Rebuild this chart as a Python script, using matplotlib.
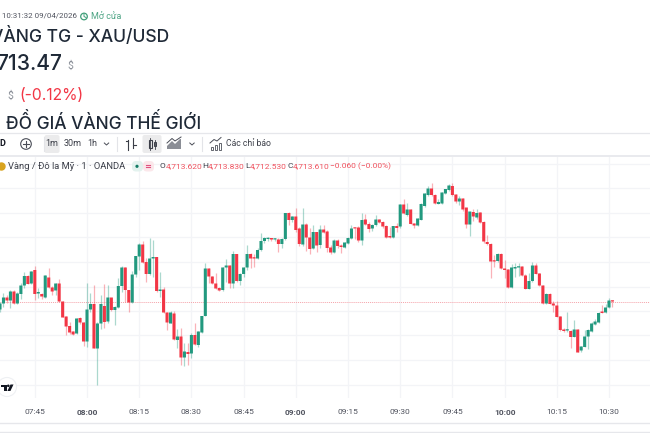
import numpy as np
import matplotlib
matplotlib.use("Agg")
import matplotlib.pyplot as plt
from matplotlib.patches import Circle, FancyBboxPatch, Rectangle, Polygon

plt.rcParams['font.family'] = ['Roboto', 'Noto Sans', 'DejaVu Sans']

# One row per minute from 07:35: open, high, low, close
candles = [
(4712.1,4713.6,4711.7,4713.3),(4713.3,4715.3,4712.5,4714.5),(4714.5,4715.0,4713.3,4713.9),(4713.9,4716.0,4712.3,4715.7),
(4715.7,4716.0,4713.2,4713.3),(4713.3,4715.7,4713.2,4715.3),(4715.2,4717.3,4714.1,4716.9),(4716.9,4719.7,4716.3,4718.8),
(4718.8,4719.0,4717.2,4717.2),(4717.3,4719.9,4717.2,4719.7),(4720.0,4720.8,4714.0,4715.2),(4715.3,4716.3,4714.3,4715.6),
(4715.2,4715.5,4714.1,4714.7),(4714.5,4719.0,4714.5,4718.9),(4718.5,4720.3,4716.3,4716.5),(4716.5,4716.8,4715.0,4715.7),
(4715.9,4717.3,4715.0,4717.3),(4717.3,4718.2,4713.5,4713.7),(4713.7,4713.9,4710.5,4710.5),(4710.7,4710.8,4707.0,4708.7),
(4708.8,4709.7,4707.2,4707.5),(4707.7,4707.9,4707.0,4707.1),(4707.3,4710.4,4707.2,4710.3),(4710.4,4710.5,4709.2,4709.5),
(4709.5,4709.7,4704.8,4705.7),(4705.7,4717.5,4704.7,4712.1),(4712.1,4715.3,4711.7,4713.2),(4713.2,4717.0,4704.3,4704.3),
(4704.3,4709.7,4697.0,4709.3),(4709.3,4715.0,4708.1,4713.2),(4712.8,4717.2,4708.3,4709.6),(4709.7,4717.0,4709.3,4714.5),
(4714.5,4714.5,4711.9,4712.0),(4712.0,4712.8,4709.0,4712.6),(4712.5,4718.5,4712.3,4716.8),(4716.8,4720.9,4715.7,4720.5),
(4720.5,4720.7,4713.5,4716.0),(4716.0,4716.0,4711.6,4713.5),(4713.5,4719.9,4713.3,4719.1),(4719.1,4722.8,4718.7,4722.8),
(4722.7,4725.3,4720.0,4725.1),(4725.1,4725.9,4721.3,4721.5),(4721.6,4722.3,4717.7,4719.2),(4719.2,4726.3,4719.0,4722.3),
(4722.3,4726.0,4718.7,4722.6),(4722.6,4722.7,4715.7,4715.8),(4715.8,4719.6,4714.7,4716.1),(4716.1,4716.7,4711.3,4711.5),
(4711.5,4711.5,4708.0,4709.5),(4709.3,4711.9,4709.3,4711.5),(4711.3,4711.9,4706.0,4706.1),(4706.0,4708.1,4704.3,4706.7),
(4706.7,4708.3,4701.0,4702.5),(4702.5,4705.3,4700.9,4703.7),(4703.6,4705.3,4701.0,4703.2),(4703.3,4707.3,4702.3,4707.0),
(4707.0,4709.3,4705.0,4705.1),(4705.0,4707.9,4704.7,4707.7),(4707.5,4710.8,4707.3,4710.8),(4710.8,4721.3,4710.8,4720.3),
(4720.3,4720.3,4717.3,4718.7),(4718.7,4718.8,4717.2,4717.3),(4717.3,4719.5,4716.1,4716.3),(4716.4,4716.7,4715.8,4715.9),
(4716.0,4720.7,4715.9,4720.5),(4720.5,4722.1,4717.7,4720.9),(4720.9,4721.0,4716.3,4717.3),(4717.3,4723.9,4716.3,4723.2),
(4723.2,4723.2,4717.7,4717.8),(4717.8,4719.3,4717.0,4719.2),(4719.2,4720.7,4718.7,4720.5),(4720.5,4725.0,4720.0,4723.2),
(4723.2,4723.5,4720.5,4722.3),(4722.5,4723.2,4720.7,4722.3),(4722.3,4724.3,4722.1,4724.0),(4724.0,4727.3,4723.9,4725.8),
(4725.8,4726.7,4725.5,4726.4),(4726.2,4726.7,4725.9,4726.4),(4726.4,4726.5,4725.9,4726.1),(4726.1,4726.3,4725.8,4726.2),
(4726.1,4726.3,4723.7,4725.2),(4725.2,4726.5,4724.3,4726.2),(4726.2,4731.5,4726.0,4731.4),(4731.4,4731.7,4729.0,4730.0),
(4730.0,4730.8,4729.7,4730.7),(4730.7,4732.5,4727.7,4728.0),(4728.3,4728.7,4724.8,4725.2),(4725.1,4732.5,4724.9,4729.1),
(4729.1,4729.3,4723.9,4726.5),(4726.5,4728.3,4723.2,4724.2),(4724.3,4729.0,4724.1,4727.6),(4727.6,4727.7,4723.7,4724.9),
(4725.0,4729.0,4724.3,4728.1),(4728.1,4729.0,4727.3,4727.5),(4727.7,4728.0,4723.7,4724.4),(4724.5,4725.0,4723.2,4723.5),
(4723.5,4726.1,4723.3,4725.9),(4725.9,4726.1,4724.5,4724.8),(4724.9,4725.1,4723.5,4724.6),(4724.5,4725.7,4724.3,4725.5),
(4725.3,4726.7,4725.2,4726.4),(4726.3,4729.0,4726.2,4728.3),(4728.5,4728.5,4726.1,4728.3),(4728.5,4728.8,4725.6,4725.9),
(4725.9,4731.5,4725.0,4730.0),(4730.1,4731.3,4729.0,4729.1),(4729.2,4729.7,4727.7,4728.2),(4728.3,4729.1,4727.9,4729.0),
(4729.0,4731.0,4728.9,4730.1),(4730.1,4730.1,4729.3,4729.5),(4729.6,4729.8,4728.3,4728.7),(4728.8,4729.0,4726.3,4726.5),
(4726.8,4728.7,4726.3,4726.5),(4726.5,4728.9,4726.3,4728.8),(4728.8,4729.3,4727.6,4728.4),(4728.7,4733.1,4728.5,4733.1),
(4733.1,4734.3,4731.1,4731.3),(4731.0,4733.5,4730.9,4732.1),(4732.1,4732.3,4729.1,4729.2),(4729.3,4729.5,4728.3,4728.9),
(4728.9,4730.5,4728.8,4730.3),(4730.0,4733.5,4730.0,4733.2),(4732.8,4735.5,4732.7,4735.3),(4735.0,4736.9,4734.9,4736.3),
(4736.3,4737.5,4734.8,4735.0),(4735.0,4735.1,4733.2,4733.3),(4733.2,4734.3,4733.1,4733.6),(4733.3,4735.6,4733.2,4735.5),
(4735.3,4736.3,4735.2,4736.2),(4736.0,4737.2,4735.9,4736.9),(4736.8,4737.5,4734.9,4735.0),(4735.1,4735.3,4733.5,4733.7),
(4733.7,4734.9,4733.0,4734.3),(4734.3,4734.5,4731.9,4732.1),(4732.5,4732.5,4728.5,4729.1),(4729.1,4731.7,4726.9,4731.7),
(4731.6,4732.3,4729.8,4730.7),(4730.5,4732.3,4730.3,4731.4),(4731.5,4731.6,4729.3,4729.5),(4729.6,4729.8,4725.5,4725.7),
(4725.6,4727.0,4725.0,4725.2),(4725.2,4725.3,4718.5,4721.7),(4721.9,4723.0,4720.7,4721.7),(4721.8,4723.3,4721.7,4723.2),
(4723.2,4723.3,4720.1,4720.3),(4720.3,4722.0,4718.5,4720.0),(4720.1,4720.2,4716.3,4716.5),(4716.5,4721.2,4716.3,4720.5),
(4720.3,4721.5,4718.7,4720.6),(4720.5,4721.3,4718.9,4720.7),(4720.7,4720.8,4718.8,4718.9),(4718.9,4719.1,4716.1,4716.2),
(4716.2,4719.3,4716.1,4717.8),(4717.8,4721.6,4717.7,4720.9),(4720.9,4721.3,4719.1,4719.2),(4719.3,4719.5,4716.8,4716.9),
(4716.9,4717.0,4713.2,4713.3),(4713.3,4715.3,4713.2,4715.2),(4715.2,4715.3,4713.1,4713.2),(4713.3,4713.8,4711.7,4712.9),
(4712.9,4713.8,4710.5,4710.6),(4710.7,4710.8,4707.9,4708.0),(4708.1,4708.3,4707.7,4707.8),(4707.9,4711.7,4707.7,4708.0),
(4707.8,4708.0,4704.3,4706.6),(4706.6,4710.0,4706.5,4708.1),(4708.1,4708.2,4703.5,4703.5),(4703.9,4704.8,4703.7,4704.7),
(4704.6,4708.0,4704.5,4706.7),(4706.7,4708.1,4704.1,4708.0),(4707.7,4709.5,4707.6,4709.3),(4709.1,4710.1,4709.0,4709.7),
(4709.5,4711.5,4709.4,4711.4),(4711.7,4713.0,4711.3,4711.4),(4711.5,4713.1,4711.3,4712.5),(4712.5,4714.5,4712.4,4713.9),
(4713.9,4714.0,4712.5,4713.7),
]
start_minute = 455
last_price = 4713.6
tick_minutes = [465, 480, 495, 510, 525, 540, 555, 570, 585, 600, 615, 630]
tick_labels = ['07:45', '08:00', '08:15', '08:30', '08:45', '09:00', '09:15', '09:30', '09:45', '10:00', '10:15', '10:30']
bold_ticks = {'08:00', '09:00', '10:00'}
price_grid = [4741.3, 4736.4, 4731.4, 4726.6, 4721.6, 4716.6, 4711.8, 4707.0, 4702.0, 4697.0]

GREEN = '#22997F'
RED = '#F23645'
GRID = '#F3F4F7'
INK = '#1F2937'
HEAD = ['Inter', 'Roboto', 'DejaVu Sans']
W, H = 650, 433

fig = plt.figure(figsize=(6.5, 4.33), dpi=100, facecolor='white')

# --- price pane: 3.48 px per minute, 5 px per dollar
top_px, bot_px = 156, 398
ax = fig.add_axes([0, 1 - bot_px / H, 1, (bot_px - top_px) / H])
ax.set_xlim(start_minute, start_minute + W / 3.48)
ax.set_ylim(4774 - bot_px / 5, 4774 - top_px / 5)
for s in ax.spines.values():
    s.set_visible(False)
ax.set_yticks(price_grid)
ax.set_yticklabels([])
ax.set_xticks(tick_minutes)
ax.set_xticklabels(tick_labels, fontsize=6.0, color='#50535E')
for lb in ax.get_xticklabels():
    if lb.get_text() in bold_ticks:
        lb.set_fontweight('bold')
ax.tick_params(axis='both', length=0, pad=8.2)
ax.grid(True, color=GRID, lw=0.9)
ax.set_axisbelow(True)

arr = np.array(candles)
o, h, l, c = arr.T
t = start_minute + np.arange(len(o))
col = [GREEN if ci >= oi else RED for oi, ci in zip(o, c)]
ax.axhline(last_price, color='#F5A3AA', lw=0.7, ls=(0, (1, 1)), zorder=1.5)
ax.vlines(t, l, h, colors=col, lw=0.9, alpha=0.38, zorder=2)
bars = ax.bar(t, np.maximum(np.abs(c - o), 0.25), bottom=np.minimum(o, c), width=0.88,
              color=col, lw=0, zorder=3)
for b in bars:
    b.set_snap(False)

# --- page furniture, in pixel coordinates
ov = fig.add_axes([0, 0, 1, 1], facecolor='none')
ov.set_xlim(0, W)
ov.set_ylim(H, 0)
ov.axis('off')

def T(x, y, s, size, color='#131722', ha='left', weight='normal', va='center', **k):
    ov.text(x, y, s, fontsize=size, color=color, ha=ha, va=va, fontweight=weight, **k)

# header
T(77, 16, ': 10:31:32 09/04/2026', 5.7, '#50535E', ha='right')
ov.add_patch(Circle((84, 16.5), 3.3, fc='none', ec='#3F9E78', lw=0.9))
ov.plot([84, 84, 86], [14.5, 16.5, 17.5], color='#3F9E78', lw=0.7)
T(91, 16.5, 'Mở cửa', 6.5, '#4FA585')
T(169, 41.7, 'VÀNG TG - XAU/USD', 12.6, INK, ha='right', weight='medium', va='baseline', family=HEAD)
T(62, 70, '713.47', 15.2, INK, ha='right', weight='medium', va='baseline', family=HEAD)
T(70.5, 66, '$', 7.5, '#8A8F98', ha='center')
T(10, 95.5, '$', 7.5, '#8A8F98', ha='center')
T(19, 100, '(-0.12%)', 11.3, '#F23645', va='baseline', family=HEAD)
T(201, 129.3, 'ĐỒ GIÁ VÀNG THẾ GIỚI', 12.5, INK, ha='right', weight='medium', va='baseline', family=HEAD)

# toolbar
ov.plot([0, W], [132.5, 132.5], color='#E6E7EB', lw=0.9)
ov.add_patch(Rectangle((0, 154.5), W, 2, fc='#E9EAEE', ec='none'))
ov.add_patch(FancyBboxPatch((44.5, 135), 15, 18, boxstyle='round,pad=0,rounding_size=2', fc='#EBEBEC', ec='none'))
ov.add_patch(FancyBboxPatch((142.5, 135), 19, 18, boxstyle='round,pad=0,rounding_size=2', fc='#EBEBEC', ec='none'))
T(5, 144, 'D', 6.5, '#131722', ha='right', weight='bold')
ov.add_patch(Circle((26, 144), 5.3, fc='none', ec='#4A4D57', lw=0.8))
ov.plot([23, 29], [144, 144], color='#4A4D57', lw=0.8)
ov.plot([26, 26], [141, 147], color='#4A4D57', lw=0.8)
T(52, 144, '1m', 6.5, '#3B3E48', ha='center')
T(72.5, 144, '30m', 6.5, '#3B3E48', ha='center')
T(92, 144, '1h', 6.5, '#3B3E48', ha='center')
for cx in (106.5, 192):
    ov.plot([cx - 2.2, cx, cx + 2.2], [143, 145, 143], color='#4A4D57', lw=0.7)
for sx in (44, 116.5, 201.5):
    ov.plot([sx, sx], [137, 151], color='#E3E4E8', lw=0.8)
# bars icon
ov.plot([128, 128], [140, 150], color='#3B3E48', lw=0.8)
ov.plot([125.5, 128], [141, 141], color='#3B3E48', lw=0.8)
ov.plot([133, 133], [138, 148], color='#3B3E48', lw=0.8)
ov.plot([133, 135.5], [145, 145], color='#3B3E48', lw=0.8)
# candles icon
ov.add_patch(Rectangle((148.5, 140), 3, 7.5, fc='none', ec='#3B3E48', lw=0.8))
ov.plot([150, 150], [138, 150], color='#3B3E48', lw=0.6, zorder=1)
ov.add_patch(Rectangle((153.5, 141.5), 2.5, 4.5, fc='none', ec='#3B3E48', lw=0.7))
ov.plot([154.7, 154.7], [139.5, 148.5], color='#3B3E48', lw=0.6)
# area icon
ov.fill([167, 172, 175, 180, 181, 181, 167], [146, 141, 144, 139, 139, 149, 149], color='#8B8E96', lw=0)
ov.plot([167, 172, 175, 181], [143, 138.5, 141, 137], color='#4A4D57', lw=0.7)
# indicators icon
for bx, bt in ((211, 147), (215, 145), (219, 143)):
    ov.add_patch(Rectangle((bx, bt), 2.2, 149.5 - bt, fc='none', ec='#4A4D57', lw=0.6))
ov.plot([210, 214, 217, 221], [143, 139.5, 141, 137.5], color='#4A4D57', lw=0.7)
T(226, 144, 'Các chỉ báo', 6.2, '#3B3E48')

# legend row
ov.add_patch(Circle((1.5, 166.5), 4.2, fc='#D8A31E', ec='none'))
T(8, 166, 'Vàng / Đô la Mỹ · 1 · OANDA', 6.75, '#3B3E48')
ov.add_patch(FancyBboxPatch((132, 161), 11, 10.5, boxstyle='round,pad=0,rounding_size=4', fc='#E3F2EE', ec='none'))
ov.add_patch(FancyBboxPatch((143, 161), 11, 10.5, boxstyle='round,pad=0,rounding_size=4', fc='#FBE7EA', ec='none'))
ov.add_patch(Circle((137, 166.3), 1.6, fc='#137B65', ec='none'))
ov.plot([145.5, 150], [165.2, 165.2], color='#E0527F', lw=0.8)
ov.plot([145.5, 150], [167.4, 167.4], color='#E0527F', lw=0.8)
ohlc_x = [(159, 'O', 165.5, '4,713.620'), (202, 'H', 208, '4,713.830'), (245, 'L', 250, '4,712.530'), (287.5, 'C', 293, '4,713.610')]
for x0, lab, x1, val in ohlc_x:
    T(x0, 166.5, lab, 6.0, '#3B3E48')
    T(x1, 166.5, val, 6.0, '#F0525E')
T(330, 166.5, '−0.060 (−0.00%)', 6.0, '#F0525E')

# TradingView badge
ov.add_patch(Circle((7, 387), 9.5, fc='white', ec='#EEF0F3', lw=0.8))
ov.add_patch(Polygon([(1, 384.5), (6.8, 384.5), (6.8, 391), (3.8, 391), (3.8, 387), (1, 387)], fc='#131722', ec='none'))
ov.add_patch(Circle((8.3, 385.8), 1.3, fc='#131722', ec='none'))
ov.add_patch(Polygon([(10.5, 384.5), (13.5, 384.5), (10.4, 391), (7.4, 391)], fc='#131722', ec='none'))

# bottom rules
ov.plot([0, W], [422.5, 422.5], color='#E6E7EB', lw=1.0)
ov.plot([0, W], [432, 432], color='#E6E7EB', lw=1.0)

fig.savefig('out.png', dpi=100, facecolor='white')
